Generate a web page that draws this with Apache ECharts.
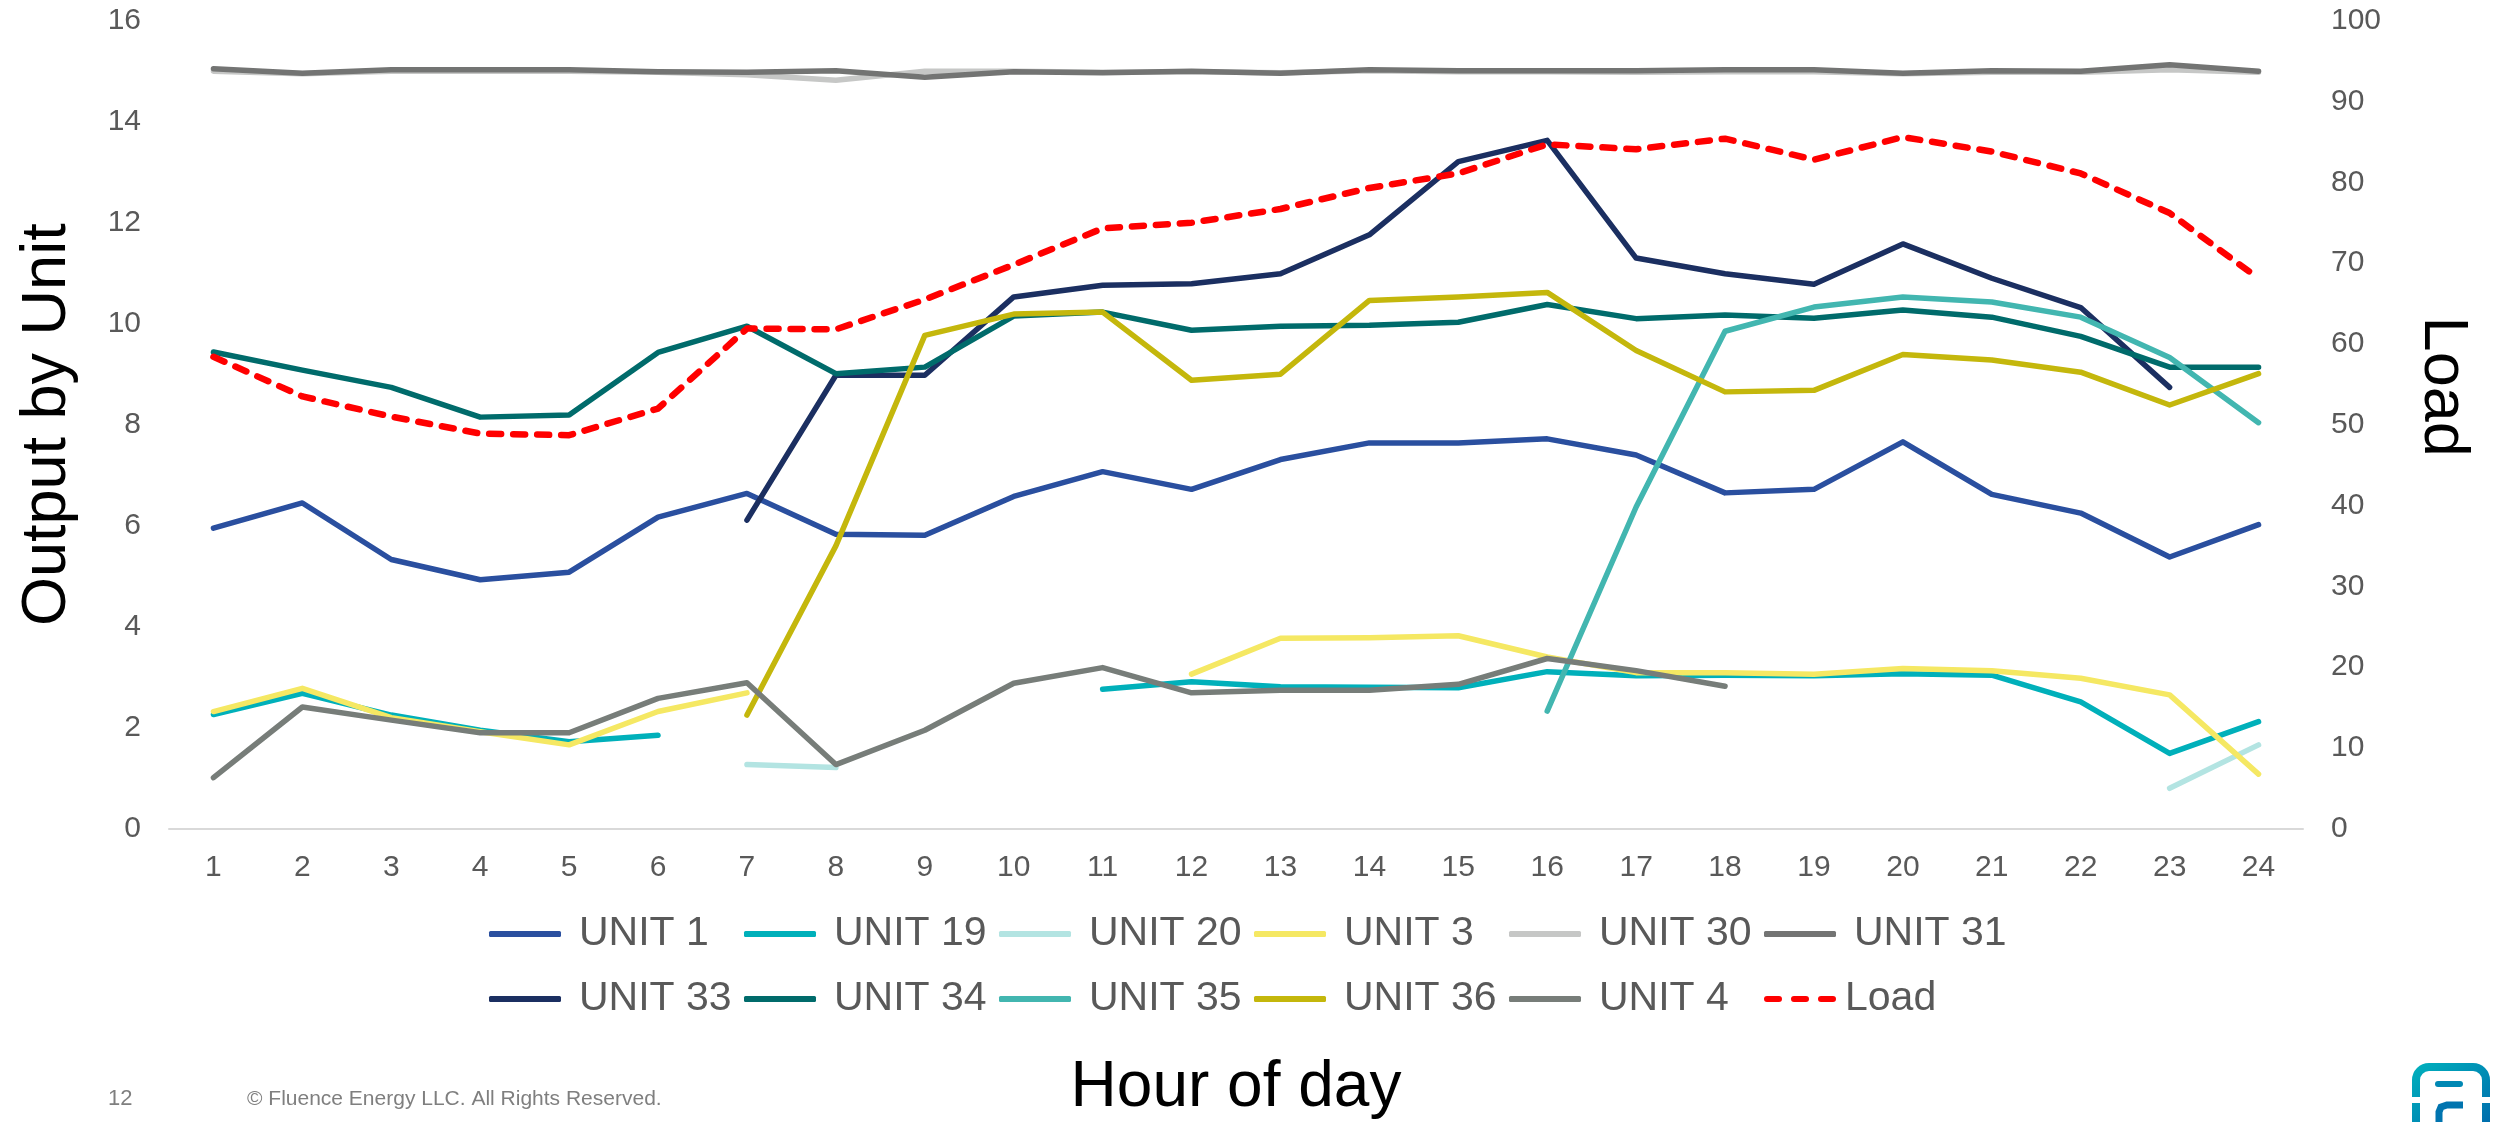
<!DOCTYPE html>
<html>
<head>
<meta charset="utf-8">
<script src="https://cdn.jsdelivr.net/npm/echarts@6/dist/echarts.min.js"></script>
<style>
html,body{margin:0;padding:0;background:#fff;}
#chart{width:2494px;height:1122px;}
</style>
</head>
<body>
<div id="chart"></div>
<script>
var hours = ['1','2','3','4','5','6','7','8','9','10','11','12','13','14','15','16','17','18','19','20','21','22','23','24'];
var leftTicks = [0, 16, 2];
var rightTicks = [0, 100, 10];

var unit1  = [5.95, 6.45, 5.33, 4.93, 5.08, 6.17, 6.64, 5.83, 5.81, 6.58, 7.07, 6.72, 7.31, 7.64, 7.64, 7.72, 7.40, 6.65, 6.72, 7.66, 6.62, 6.25, 5.38, 6.02];
var unit19 = [2.26, 2.68, 2.25, 1.95, 1.72, 1.85, null, null, null, null, 2.76, 2.91, 2.81, 2.80, 2.79, 3.11, 3.03, 3.04, 3.03, 3.07, 3.04, 2.51, 1.49, 2.12];
var unit20 = [null, null, null, null, null, null, 1.27, 1.21, null, null, null, null, null, null, null, null, null, null, null, null, null, null, 0.80, 1.66];
var unit3  = [2.32, 2.78, 2.20, 1.92, 1.66, 2.32, 2.69, null, null, null, null, 3.06, 3.77, 3.78, 3.82, 3.40, 3.09, 3.09, 3.06, 3.17, 3.13, 2.98, 2.65, 1.08];
var unit30 = [15.00, 14.95, 15.00, 15.00, 15.00, 14.98, 14.93, 14.82, 15.00, 15.00, 14.98, 14.99, 14.97, 15.01, 14.99, 14.99, 14.98, 14.99, 14.99, 14.95, 14.98, 14.98, 15.03, 14.98];
var unit31 = [15.05, 14.96, 15.03, 15.03, 15.03, 14.99, 14.98, 15.01, 14.88, 14.99, 14.97, 15.00, 14.96, 15.03, 15.01, 15.01, 15.01, 15.03, 15.03, 14.96, 15.01, 15.00, 15.13, 15.00];
var unit33 = [null, null, null, null, null, null, 6.11, 8.98, 8.98, 10.53, 10.76, 10.79, 10.99, 11.76, 13.21, 13.63, 11.30, 10.99, 10.78, 11.58, 10.90, 10.32, 8.74, null];
var unit34 = [9.44, 9.08, 8.74, 8.15, 8.19, 9.43, 9.95, 9.01, 9.14, 10.15, 10.23, 9.87, 9.95, 9.97, 10.03, 10.38, 10.10, 10.17, 10.11, 10.27, 10.13, 9.75, 9.14, 9.14];
var unit35 = [null, null, null, null, null, null, null, null, null, null, null, null, null, null, null, 2.33, 6.37, 9.85, 10.33, 10.53, 10.43, 10.13, 9.33, 8.04];
var unit36 = [null, null, null, null, null, null, 2.25, 5.60, 9.77, 10.19, 10.23, 8.88, 9.00, 10.46, 10.53, 10.62, 9.47, 8.65, 8.68, 9.39, 9.28, 9.04, 8.39, 9.01];
var unit4  = [1.01, 2.41, 2.15, 1.90, 1.90, 2.58, 2.89, 1.27, 1.95, 2.88, 3.19, 2.69, 2.74, 2.74, 2.86, 3.37, 3.13, 2.82, null, null, null, null, null, null];
var load   = [58.4, 53.5, 51.0, 48.9, 48.7, 52.0, 61.9, 61.8, 65.5, 69.8, 74.3, 75.0, 76.7, 79.3, 81.1, 84.7, 84.1, 85.4, 82.8, 85.6, 83.8, 81.1, 76.2, 68.1];

var seriesNames = ['UNIT 1','UNIT 19','UNIT 20','UNIT 3','UNIT 30','UNIT 31','UNIT 33','UNIT 34','UNIT 35','UNIT 36','UNIT 4','Load'];
var seriesData  = [unit1, unit19, unit20, unit3, unit30, unit31, unit33, unit34, unit35, unit36, unit4, load];
var seriesColors = ['#2a4f9f','#00b0ba','#b3e4e2','#f5e863','#c6c7c6','#737473','#1b2f61','#006b6b','#42b6b0','#c4b70c','#777d79','#ff0000'];

var FONT = '"Liberation Sans", Arial, Helvetica, sans-serif';
var chart = echarts.init(document.getElementById('chart'), null, {renderer: 'canvas'});

var series = seriesNames.map(function (name, i) {
  var isLoad = name === 'Load';
  return {
    name: name,
    type: 'line',
    yAxisIndex: isLoad ? 1 : 0,
    data: seriesData[i],
    symbol: 'none',
    showSymbol: false,
    connectNulls: false,
    smooth: false,
    color: seriesColors[i],
    lineStyle: {
      color: seriesColors[i],
      width: isLoad ? 6.5 : 5.5,
      type: isLoad ? [12, 12] : 'solid',
      cap: 'round',
      join: 'round'
    },
    emphasis: {disabled: true}
  };
});

var DASH_ICON = 'path://M3,0 L15,0 A3,3 0 0 1 15,6 L3,6 A3,3 0 0 1 3,0 Z M30,0 L42,0 A3,3 0 0 1 42,6 L30,6 A3,3 0 0 1 30,0 Z M57,0 L69,0 A3,3 0 0 1 69,6 L57,6 A3,3 0 0 1 57,0 Z';

function legendCfg(names, top) {
  return {
    data: names.map(function (n) {
      var item = {name: n, icon: n === 'Load' ? DASH_ICON : 'roundRect'};
      if (n === 'Load') {
        item.textStyle = {padding: [0, 0, 0, 4], width: 165};
      }
      return item;
    }),
    left: 489,
    top: top,
    orient: 'horizontal',
    padding: 0,
    itemGap: 0,
    itemWidth: 72,
    itemHeight: 6,
    selectedMode: false,
    textStyle: {
      fontFamily: FONT,
      fontSize: 41,
      color: '#595959',
      width: 165,
      lineHeight: 50,
      padding: [0, 0, 0, 13]
    }
  };
}

var logoGrad = new echarts.graphic.LinearGradient(0, 0, 1, 1, [
  {offset: 0, color: '#00b2bd'}, {offset: 1, color: '#0058a8'}
]);

var option = {
  animation: false,
  backgroundColor: '#ffffff',
  grid: {left: 169, right: 191, top: 20.7, bottom: 293.3, containLabel: false, outerBoundsMode: 'none'},
  legend: [
    legendCfg(seriesNames.slice(0, 6), 909),
    legendCfg(seriesNames.slice(6), 974)
  ],
  xAxis: {
    type: 'category',
    data: hours,
    boundaryGap: true,
    axisLine: {show: true, lineStyle: {color: '#d9d9d9', width: 2}},
    axisTick: {show: false},
    splitLine: {show: false},
    axisLabel: {fontFamily: FONT, fontSize: 30, color: '#595959', margin: 24},
    name: 'Hour of day',
    nameLocation: 'middle',
    nameGap: 228,
    nameTextStyle: {fontFamily: FONT, fontSize: 64, color: '#000000', lineHeight: 64}
  },
  yAxis: [
    {
      type: 'value',
      position: 'left',
      min: leftTicks[0], max: leftTicks[1], interval: leftTicks[2],
      axisLine: {show: false},
      axisTick: {show: false},
      splitLine: {show: false},
      axisLabel: {fontFamily: FONT, fontSize: 30, color: '#595959', margin: 28},
      name: 'Output by Unit',
      nameLocation: 'middle',
      nameGap: 89,
      nameTextStyle: {fontFamily: FONT, fontSize: 63, color: '#000000', lineHeight: 64}
    },
    {
      type: 'value',
      position: 'right',
      min: rightTicks[0], max: rightTicks[1], interval: rightTicks[2],
      axisLine: {show: false},
      axisTick: {show: false},
      splitLine: {show: false},
      axisLabel: {fontFamily: FONT, fontSize: 30, color: '#595959', margin: 28},
      name: 'Load',
      nameLocation: 'middle',
      nameRotate: -90,
      nameGap: 107,
      nameTextStyle: {fontFamily: FONT, fontSize: 63, color: '#000000', lineHeight: 64, padding: [0, 76, 0, 0]}
    }
  ],
  series: series,
  graphic: [
    {type: 'text', x: 108, y: 1099, style: {text: '12', font: '22px ' + FONT, fill: '#7f7f7f', verticalAlign: 'middle', align: 'left'}},
    {type: 'text', x: 247, y: 1099, style: {text: '\u00A9 Fluence Energy LLC. All Rights Reserved.', font: '21px ' + FONT, fill: '#7f7f7f', verticalAlign: 'middle', align: 'left'}},
    {type: 'rect', shape: {x: 2416, y: 1067, width: 70, height: 90, r: 13},
      style: {fill: 'none', lineWidth: 8, stroke: logoGrad}},
    {type: 'rect', shape: {x: 2406, y: 1097, width: 88, height: 6}, style: {fill: '#ffffff'}},
    {type: 'rect', shape: {x: 2435, y: 1081, width: 28, height: 6, r: 3}, style: {fill: '#0088b4'}},
    {type: 'polyline', shape: {points: [[2439, 1124], [2439, 1112], [2441, 1107], [2447, 1105], [2463, 1105]]},
      style: {fill: 'none', lineWidth: 7, stroke: '#0074af'}}
  ]
};
chart.setOption(option);
</script>
</body>
</html>
